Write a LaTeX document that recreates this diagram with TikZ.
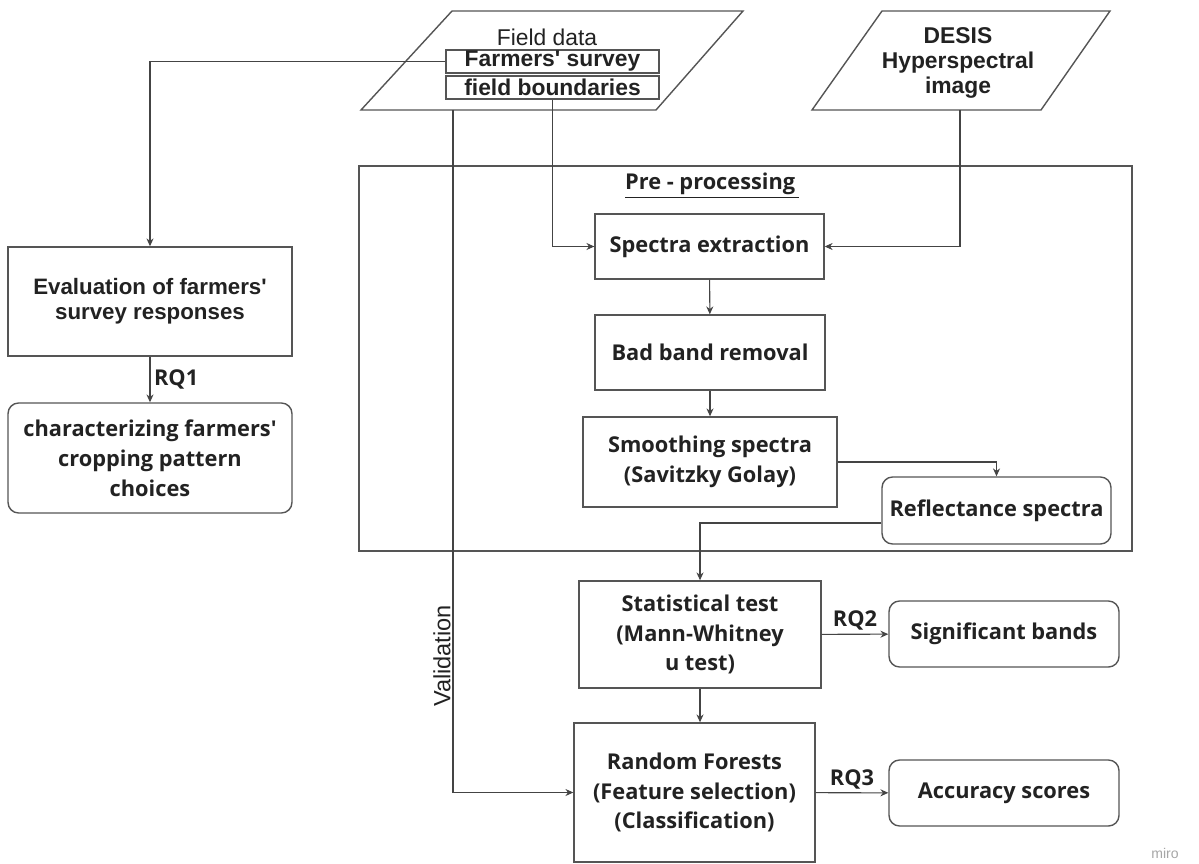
\documentclass[tikz,border=0pt]{standalone}
\usepackage{fontspec}
\setmainfont{Open Sans}
\newfontfamily\arialfont{Liberation Sans}
\usetikzlibrary{arrows.meta}
\definecolor{boxline}{HTML}{555555}
\definecolor{arrowline}{HTML}{444444}
\definecolor{txt}{HTML}{222222}

\begin{document}
\begin{tikzpicture}[x = 0.02cm, y = -0.02cm,
  box/.style = {draw = boxline, line width = 0.8pt, text = txt, align = center, inner sep = 0pt,
    font = \fontsize{12.4}{17}\selectfont\bfseries},
  outbox/.style = {box, rounded corners = 6pt},
  databox/.style = {draw = boxline, line width = 0.8pt, text = txt, inner sep = 0pt,
    minimum width = 4.26cm, minimum height = 0.46cm, font = \arialfont\fontsize{13}{14}\selectfont\bfseries},
  datatext/.style = {text = txt, align = center, font = \arialfont\fontsize{13}{14.2}\selectfont\bfseries},
  flow/.style = {draw = arrowline, line width = 0.6pt, -{Stealth[length = 4.5pt, width = 4pt]}},
  rq/.style = {text = txt, inner sep = 2pt, font = \fontsize{12.4}{15}\selectfont\bfseries}]

\useasboundingbox (0,0) rectangle (1199,864);

% inputs
\draw [draw = boxline, line width = 0.8pt] (452,11) -- (743,11) -- (656,110) -- (361,110) -- cycle;
\draw [draw = boxline, line width = 0.8pt] (882,11) -- (1110,11) -- (1041,110) -- (812,110) -- cycle;
\node (field) [text = txt, inner sep = 0pt, font = \arialfont\fontsize{13}{15}\selectfont] at (547,37) {Field data};
\node (survey) [databox] at (552.5,61.5) {Farmers' survey};
\node (bounds) [databox] at (552.5,87.5) {field boundaries};
\node (desis) [datatext] at (958,63) {DESIS\\Hyperspectral\\image};
\coordinate (desisout) at (960,110);
\coordinate (valout) at (453,110);

% pre-processing
\draw [draw = boxline, line width = 0.8pt] (359,166) rectangle (1132,551);
\node (pretitle) [text = txt, font = \fontsize{12.4}{15}\selectfont\bfseries] at (712,186) {\underline{Pre - processing\,}};
\node (spectra) [box, minimum width = 4.58cm, minimum height = 1.30cm] at (709.5,246.5) {Spectra extraction};
\node (badband) [box, minimum width = 4.6cm, minimum height = 1.5cm] at (710,352.5) {Bad band removal};
\node (smooth) [box, minimum width = 5.08cm, minimum height = 1.8cm] at (710,462) {Smoothing spectra\\(Savitzky Golay)};
\node (reflect) [outbox, minimum width = 4.58cm, minimum height = 1.34cm] at (996.5,510.5) {Reflectance spectra};

% analysis
\node (stat) [box, minimum width = 4.84cm, minimum height = 2.14cm] at (700,634.5) {Statistical test\\(Mann-Whitney\\u test)};
\node (rf) [box, minimum width = 4.82cm, minimum height = 2.78cm] at (694.5,792.5) {Random Forests\\(Feature selection)\\(Classification)};
\node (sig) [outbox, minimum width = 4.6cm, minimum height = 1.32cm] at (1004,634) {Significant bands};
\node (acc) [outbox, minimum width = 4.6cm, minimum height = 1.32cm] at (1004,793) {Accuracy scores};

% survey branch
\node (eval) [box, minimum width = 5.68cm, minimum height = 2.18cm,
  font = \arialfont\fontsize{12.7}{14.2}\selectfont\bfseries] at (150,301.5) {Evaluation of farmers'\\survey responses};
\node (charz) [outbox, minimum width = 5.68cm, minimum height = 2.2cm] at (150,458) {characterizing farmers\textquotesingle\\cropping pattern\\choices};

\node (miro) [text = gray!70, font = \arialfont\fontsize{8}{9}\selectfont] at (1165,853) {miro};

% connectors
\draw [flow] (survey.west) -| (eval.north);
\draw [flow] (bounds.south) |- (spectra.west);
\draw [flow] (desisout) |- (spectra.east);
\draw [flow] (spectra) -- (badband);
\draw [flow] (badband) -- (smooth);
\draw [flow] (smooth.east) -| (reflect.north);
\draw [flow] ([yshift = -0.25cm]reflect.west) -| (stat.north);
\draw [flow] (stat) -- node [rq, above] {RQ2} (sig);
\draw [flow] (stat.south) -- (stat.south |- rf.north);
\draw [flow] (rf) -- node [rq, above] {RQ3} (acc);
\draw [flow] (eval) -- node [rq, right] {RQ1} (charz);
\draw [flow] (valout) |- node [pos = 0.4, rotate = 90, above, inner sep = 1pt, text = txt,
  font = \arialfont\fontsize{13.4}{15}\selectfont] {Validation} (rf.west);
\end{tikzpicture}
\end{document}
